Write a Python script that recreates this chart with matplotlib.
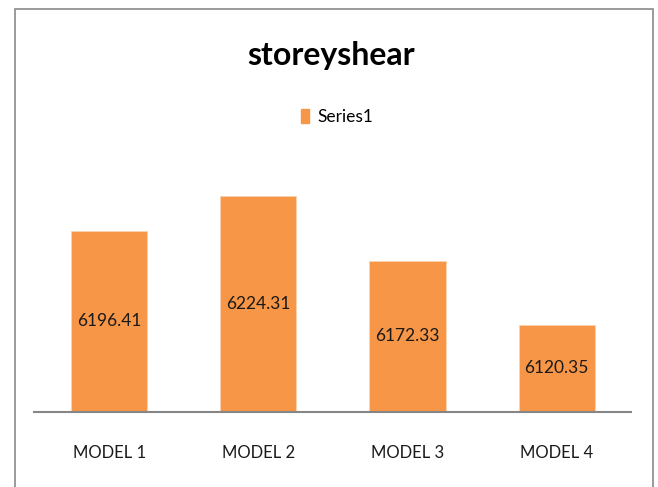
import matplotlib.pyplot as plt
from matplotlib.patches import Rectangle, Patch

models = ["MODEL 1", "MODEL 2", "MODEL 3", "MODEL 4"]
shear = [6196.41, 6224.31, 6172.33, 6120.35]
series_name = "Series1"

plt.rcParams["font.family"] = ["Lato", "DejaVu Sans"]

orange = "#F79646"

fig = plt.figure(figsize=(6.58, 4.87), dpi=100)
ax = fig.add_axes([0.0524, 0.1546, 0.907, 0.5072])

x = range(len(models))
bars = ax.bar(x, shear, width=0.51, color=orange, edgecolor="#fbd3b0", linewidth=0.6)
ax.set_ylim(6050, 6250)
ax.set_xlim(-0.5, len(models) - 0.5)

# value labels centred inside the bars
for b, v in zip(bars, shear):
    mid = (6050 + v) / 2
    ax.text(b.get_x() + b.get_width() / 2, mid, f"{v:.2f}",
            ha="center", va="center", fontsize=12.5, color="#1a1a1a")

ax.set_xticks(list(x))
ax.set_xticklabels(models, fontsize=12, color="#1a1a1a")
ax.tick_params(axis="x", length=0, pad=24)
ax.set_yticks([])
for side in ["left", "right", "top"]:
    ax.spines[side].set_visible(False)
ax.spines["bottom"].set_color("#868686")
ax.spines["bottom"].set_linewidth(1.5)

fig.text(0.503, 1 - 56 / 487, "storeyshear", ha="center", va="center",
         fontsize=23, fontweight="bold", color="black")

fig.legend(handles=[Patch(color=orange, label=series_name)],
           loc="center", bbox_to_anchor=(0.513, 1 - 117 / 487),
           frameon=False, fontsize=12.5, handlelength=0.45, handleheight=0.9,
           handletextpad=0.5)

# chart border
fig.patches.append(Rectangle((15 / 658, -0.05), 638 / 658, 1.05 - 9 / 487,
                             transform=fig.transFigure, fill=False,
                             edgecolor="#8a8a8a", linewidth=1.2))

fig.savefig("out.png", dpi=100)
